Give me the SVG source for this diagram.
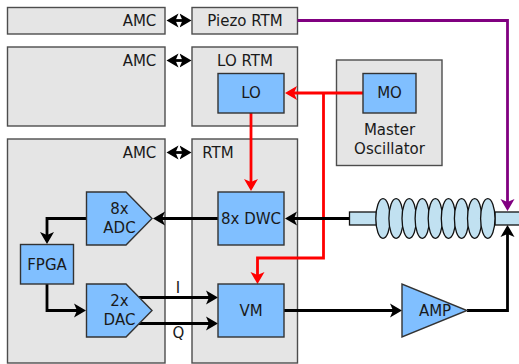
<svg xmlns="http://www.w3.org/2000/svg" width="519" height="364" viewBox="0 0 519 364">
<style>
.p{fill:#e5e5e5;stroke:#4d4d4d;stroke-width:1.4}
.b{fill:#80bfff;stroke:#333;stroke-width:1.4;stroke-linejoin:miter}
.t{font-family:"DejaVu Sans",sans-serif;font-size:15px;fill:#1a1a1a;text-anchor:middle}
.c{fill:none;stroke-width:2.8;stroke-linejoin:miter}
.k{stroke:#000}.r{stroke:#f00}.v{stroke:#800080}
.e{fill:#c1e1f1;stroke:#111;stroke-width:1.3}
</style>
<defs>
<marker id="ak" markerUnits="userSpaceOnUse" markerWidth="15" markerHeight="15" refX="9" refY="7.500" orient="auto-start-reverse" viewBox="0 0 15 15"><path d="M0,0.500 L12,7.500 L0,14.500 L3,7.500Z" fill="#000"/></marker>
<marker id="ar" markerUnits="userSpaceOnUse" markerWidth="15" markerHeight="15" refX="9" refY="7.500" orient="auto" viewBox="0 0 15 15"><path d="M0,0.500 L12,7.500 L0,14.500 L3,7.500Z" fill="#f00"/></marker>
<marker id="av" markerUnits="userSpaceOnUse" markerWidth="15" markerHeight="15" refX="9" refY="7.500" orient="auto" viewBox="0 0 15 15"><path d="M0,0.500 L12,7.500 L0,14.500 L3,7.500Z" fill="#800080"/></marker>
</defs>
<g id="amc1"><rect class="p" x="7.500" y="7.500" width="157.500" height="26.500"/><text class="t" x="139.500" y="26">AMC</text></g>
<g id="piezo-rtm"><rect class="p" x="192" y="7.500" width="105.500" height="26.500"/><text class="t" x="245" y="26">Piezo RTM</text></g>
<g id="amc2"><rect class="p" x="7.500" y="47" width="157.500" height="79"/><text class="t" x="139.500" y="65.500">AMC</text></g>
<g id="lo-rtm"><rect class="p" x="192" y="47" width="105.500" height="79"/><text class="t" x="245" y="65.500">LO RTM</text></g>
<g id="amc3"><rect class="p" x="7.500" y="139" width="157.500" height="224"/><text class="t" x="139.500" y="157.500">AMC</text></g>
<g id="rtm"><rect class="p" x="192" y="139" width="105.500" height="224"/><text class="t" x="218" y="157.500">RTM</text></g>
<g id="master-osc"><rect class="p" x="336.500" y="60" width="105.500" height="105.500"/><text class="t" x="389.500" y="135">Master</text><text class="t" x="389.500" y="154">Oscillator</text></g>
<g id="connectors">
<path class="c k" d="M169.500,20.500H188.500" marker-start="url(#ak)" marker-end="url(#ak)"/>
<path class="c k" d="M169.500,60.500H188.500" marker-start="url(#ak)" marker-end="url(#ak)"/>
<path class="c k" d="M169.500,152.500H188.500" marker-start="url(#ak)" marker-end="url(#ak)"/>
<path class="c v" d="M297.500,20.500H507.500V208" marker-end="url(#av)"/>
<path class="c r" d="M363,93H288" marker-end="url(#ar)"/>
<path class="c r" d="M323.500,93V258H257.500V281" marker-end="url(#ar)"/>
<path class="c r" d="M251,113V188" marker-end="url(#ar)"/>
<path class="c k" d="M350,218.500H288" marker-end="url(#ak)"/>
<path class="c k" d="M218,218.500H156" marker-end="url(#ak)"/>
<path class="c k" d="M86.500,218.500H47V241" marker-end="url(#ak)"/>
<path class="c k" d="M47,284V310.500H83" marker-end="url(#ak)"/>
<path class="c k" d="M139,297.500H215" marker-end="url(#ak)"/>
<path class="c k" d="M139,323.500H215" marker-end="url(#ak)"/>
<path class="c k" d="M284,310.500H399" marker-end="url(#ak)"/>
<path class="c k" d="M467,310.500H507.500V228" marker-end="url(#ak)"/>
</g>
<g id="lo"><rect class="b" x="218" y="73.500" width="66" height="39.500"/><text class="t" x="251" y="98">LO</text></g>
<g id="mo"><rect class="b" x="363" y="73.500" width="53" height="39.500"/><text class="t" x="389.500" y="98">MO</text></g>
<g id="dwc"><rect class="b" x="218" y="192" width="66" height="53"/><text class="t" x="251" y="223.500">8x DWC</text></g>
<g id="vm"><rect class="b" x="218" y="284" width="66" height="53"/><text class="t" x="251" y="315.500">VM</text></g>
<g id="adc"><polygon class="b" points="86.500,192 126,192 152,218.500 126,245 86.500,245"/><text class="t" x="119.500" y="214">8x</text><text class="t" x="119.500" y="233">ADC</text></g>
<g id="dac"><polygon class="b" points="86.500,284 126,284 152,310.500 126,337 86.500,337"/><text class="t" x="119.500" y="306">2x</text><text class="t" x="119.500" y="325">DAC</text></g>
<g id="fpga"><rect class="b" x="20.500" y="244.500" width="53" height="39.500"/><text class="t" x="47" y="269.500">FPGA</text></g>
<g id="amp"><polygon class="b" points="402,284 402,337 467,310.500"/><text class="t" x="435" y="315.500">AMP</text></g>
<g id="cavity">
<rect class="e" x="349.500" y="212" width="27" height="13"/>
<rect class="e" x="495" y="212" width="26" height="13"/>
<ellipse class="e" cx="383" cy="218.500" rx="7.200" ry="19.800"/>
<ellipse class="e" cx="396.100" cy="218.500" rx="7.200" ry="19.800"/>
<ellipse class="e" cx="409.200" cy="218.500" rx="7.200" ry="19.800"/>
<ellipse class="e" cx="422.300" cy="218.500" rx="7.200" ry="19.800"/>
<ellipse class="e" cx="435.400" cy="218.500" rx="7.200" ry="19.800"/>
<ellipse class="e" cx="448.500" cy="218.500" rx="7.200" ry="19.800"/>
<ellipse class="e" cx="461.600" cy="218.500" rx="7.200" ry="19.800"/>
<ellipse class="e" cx="474.700" cy="218.500" rx="7.200" ry="19.800"/>
<ellipse class="e" cx="487.800" cy="218.500" rx="7.200" ry="19.800"/>
</g>
<g id="labels"><text class="t" x="178" y="293">I</text><text class="t" x="178.500" y="338">Q</text></g>
</svg>
